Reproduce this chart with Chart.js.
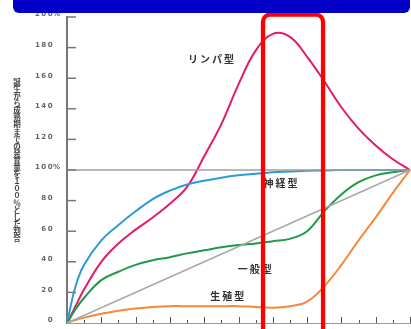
<!DOCTYPE html>
<html>
<head>
<meta charset="utf-8">
<script src="https://cdn.jsdelivr.net/npm/chart.js@4/dist/chart.umd.min.js"></script>
<style>
  html, body { margin: 0; padding: 0; background: #fff; overflow: hidden; }
  #wrap { position: relative; width: 411px; height: 329px; }
  #banner {
    position: absolute; left: 13px; top: -8px; width: 397px; height: 21px;
    background: #0000c8; border-radius: 0 0 6px 6px;
  }
</style>
</head>
<body>
<div id="wrap">
  <canvas id="chart" width="411" height="329"></canvas>
  <div id="banner"></div>
</div>
<script>
// スキャモンの発育曲線（誕生〜20歳、20歳時点=100%）
const ages      = [0, 0.5, 1, 2, 3, 4, 5, 6, 7, 8, 9, 10, 11, 12, 13, 14, 15, 16, 17, 18, 19, 20];
const lymphoid  = [0, 11, 22, 40, 52, 61, 69, 78, 89, 109, 130, 156, 178, 189, 187, 174, 158, 141, 127, 116, 107, 100];
const neural    = [0, 24, 38, 54, 64, 73, 81, 86.5, 90.5, 93, 95, 96.5, 97.5, 98.5, 99, 99.5, 99.7, 100, 100, 100, 100, 100];
const general   = [0, 9, 16.5, 28, 33.5, 38, 41, 43, 45.5, 47.5, 49.5, 51, 52, 53.5, 55, 60, 73, 84, 92, 96.5, 98.5, 100];
const genital   = [0, 2, 3.5, 6, 8, 9.5, 10.5, 11, 11, 11, 11, 11, 10.5, 10, 11, 14, 24, 38, 54, 69, 85, 100];
const refAges   = [0, 20];
const refLine   = [0, 100];
const fullLine  = [100, 100];

const seriesLabels = ['リンパ型', '神経型', '一般型', '生殖型'];
const labelAges    = [8.45, 12.5, 11.0, 9.4];
const labelValues  = [172.5, 91.5, 35, 17.6];

const axisTitle = '誕生から成熟期までの発育量を１００％とした割合';
const focusFrom = 11.43, focusTo = 14.93;   // 赤枠（思春期）

const pts = (xs, ys) => xs.map((a, i) => ({ x: a, y: ys[i] }));

const overlay = {
  id: 'overlay',
  afterDraw(chart) {
    const { ctx, chartArea, scales: { x, y } } = chart;
    ctx.save();

    // y軸 目盛（内向き）とラベル
    y.ticks.forEach(t => {
      const py = y.getPixelForValue(t.value);
      if (t.value > 0) {
        ctx.strokeStyle = '#777'; ctx.lineWidth = 1.5;
        ctx.beginPath(); ctx.moveTo(chartArea.left, py); ctx.lineTo(chartArea.left + 9, py); ctx.stroke();
      }
      ctx.font = 'bold 7px "DejaVu Sans"';
      ctx.letterSpacing = '1.5px';
      ctx.fillStyle = '#666';
      ctx.textBaseline = 'middle';
      ctx.textAlign = 'right';
      ctx.fillText(String(t.value), 54, py - 2.5);
      if (t.value > 0 && t.value % 100 === 0) {
        ctx.textAlign = 'left';
        ctx.fillText('%', 53, py - 2.5);
      }
    });
    ctx.letterSpacing = '0px';

    // x軸 目盛（1年ごと、偶数年が長い）
    ctx.strokeStyle = '#555'; ctx.lineWidth = 1;
    x.ticks.forEach(t => {
      if (t.value <= 0) return;
      const px = Math.round(x.getPixelForValue(t.value)) + 0.5;
      const len = t.value % 2 === 0 ? 6 : 3;
      ctx.beginPath(); ctx.moveTo(px, chartArea.bottom); ctx.lineTo(px, chartArea.bottom - len); ctx.stroke();
    });

    // 縦書きの軸タイトル
    ctx.font = 'bold 7.5px "Noto Sans CJK JP"';
    ctx.fillStyle = '#444';
    ctx.textAlign = 'center';
    ctx.textBaseline = 'middle';
    [...axisTitle].forEach((ch, i) => ctx.fillText(ch, 17, 82 + i * 7.1));

    // 曲線名
    ctx.font = 'bold 10px "Noto Sans CJK JP"';
    ctx.letterSpacing = '2px';
    ctx.fillStyle = '#333';
    seriesLabels.forEach((s, i) => {
      ctx.fillText(s, x.getPixelForValue(labelAges[i]), y.getPixelForValue(labelValues[i]));
    });
    ctx.letterSpacing = '0px';

    // 赤枠
    const l = x.getPixelForValue(focusFrom), r = x.getPixelForValue(focusTo);
    const top = y.getPixelForValue(201.5);
    ctx.strokeStyle = '#ff0000'; ctx.lineWidth = 4.3;
    ctx.beginPath();
    ctx.roundRect(l, top, r - l, chart.height + 30 - top, 7);
    ctx.stroke();

    ctx.restore();
  }
};

new Chart(document.getElementById('chart'), {
  type: 'line',
  data: {
    datasets: [
      { data: pts(refAges, fullLine), borderColor: '#a0a0a0', borderWidth: 1.5 },
      { data: pts(refAges, refLine),  borderColor: '#a8a8a8', borderWidth: 1.5 },
      { data: pts(ages, genital),  borderColor: '#f5883a', borderWidth: 2, tension: 0.4 },
      { data: pts(ages, general),  borderColor: '#1f9a48', borderWidth: 2, tension: 0.4 },
      { data: pts(ages, neural),   borderColor: '#2b9bd8', borderWidth: 2, tension: 0.4 },
      { data: pts(ages, lymphoid), borderColor: '#e3196e', borderWidth: 2, tension: 0.4 }
    ]
  },
  options: {
    responsive: false,
    animation: false,
    clip: false,
    layout: { padding: { top: 17, right: 1, left: 0, bottom: 0 } },
    elements: { point: { radius: 0 } },
    plugins: { legend: { display: false }, tooltip: { enabled: false } },
    scales: {
      x: {
        type: 'linear', min: 0, max: 20,
        ticks: { display: false, stepSize: 1 },
        grid: { display: false },
        border: { display: true, color: '#999', width: 1, dash: [2, 1] },
        afterFit(s) { s.height = 6; }
      },
      y: {
        min: 0, max: 200,
        ticks: { display: false, stepSize: 20 },
        grid: { display: false },
        border: { display: true, color: '#777', width: 2 },
        afterFit(s) { s.width = 67; }
      }
    }
  },
  plugins: [overlay]
});
</script>
</body>
</html>
